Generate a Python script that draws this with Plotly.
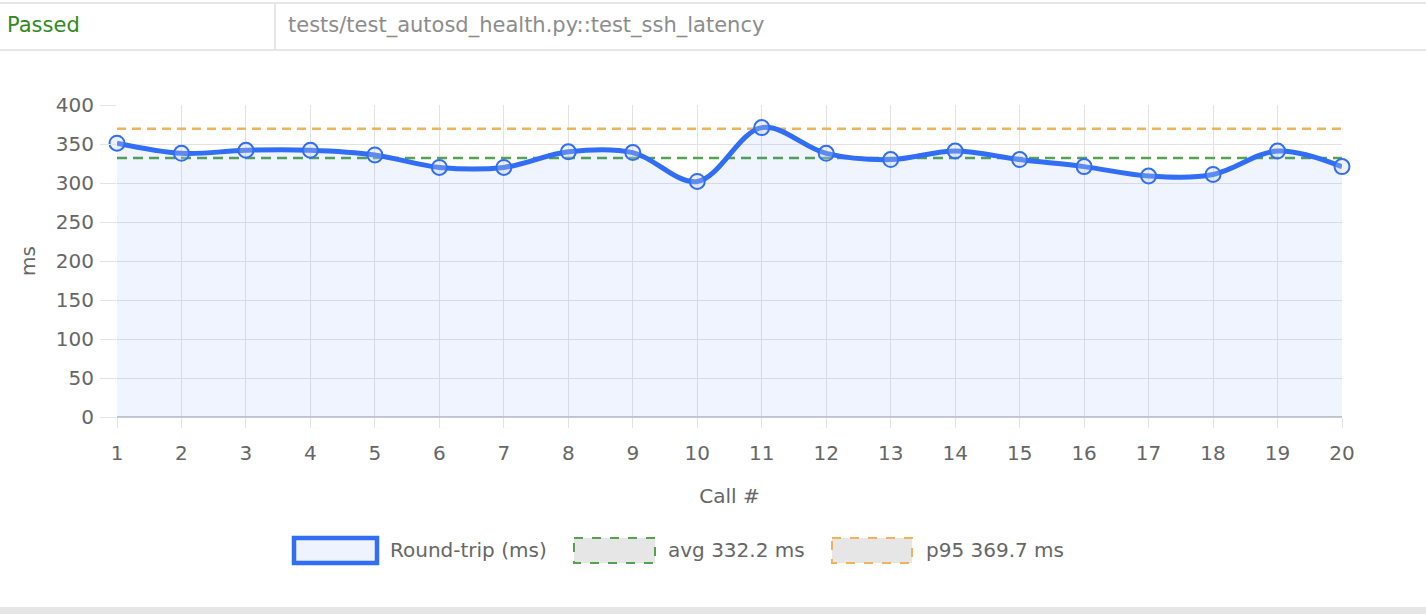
import plotly.graph_objects as go

# ---- data ----
calls = list(range(1, 21))
round_trip = [351, 338, 342, 342, 336, 320, 320, 340, 339, 302,
              371, 338, 330, 341, 330, 321, 309, 311, 341, 321]
avg_value = 332.2
p95_value = 369.7
y_ticks = [0, 50, 100, 150, 200, 250, 300, 350, 400]
legend_labels = ["Round-trip (ms)", "avg 332.2 ms", "p95 369.7 ms"]
status_text = "Passed"
test_name = "tests/test_autosd_health.py::test_ssh_latency"

# ---- layout geometry ----
FW, FH = 1426, 614
L, R, T, B = 117, 84, 105, 197
PW, PH = FW - L - R, FH - T - B

def px(x):
    return (x - L) / PW

def py(y):
    return (FH - B - y) / PH

FONT = "DejaVu Sans, Liberation Sans, Arial, sans-serif"
FS = 20
BLUE = "#316ef5"
FILL = "rgba(49,110,245,0.08)"
GREEN = "#55a34f"
ORANGE = "#f0b25c"
GRID = "#e3e3e6"
TXT = "#666666"

fig = go.Figure()

fig.add_trace(go.Scatter(
    x=calls, y=[p95_value] * len(calls), mode="lines",
    line=dict(color=ORANGE, width=2.5, dash="9px,6px"),
    showlegend=False, hoverinfo="skip"))
fig.add_trace(go.Scatter(
    x=calls, y=[avg_value] * len(calls), mode="lines",
    line=dict(color=GREEN, width=2.5, dash="10px,6px"),
    showlegend=False, hoverinfo="skip"))
fig.add_trace(go.Scatter(
    x=calls, y=round_trip, mode="lines+markers",
    line=dict(color=BLUE, width=5, shape="spline", smoothing=1.0),
    fill="tozeroy", fillcolor=FILL,
    marker=dict(symbol="circle", size=15, color="rgba(200,210,230,0.3)",
                line=dict(color=BLUE, width=2)),
    cliponaxis=False,
    showlegend=False))

shapes = []
annotations = []

# header row
shapes.append(dict(type="line", xref="paper", yref="paper",
                   x0=px(0), x1=px(FW), y0=py(3), y1=py(3),
                   line=dict(color="#e6e6e6", width=2)))
shapes.append(dict(type="line", xref="paper", yref="paper",
                   x0=px(0), x1=px(FW), y0=py(50), y1=py(50),
                   line=dict(color="#e6e6e6", width=2)))
shapes.append(dict(type="line", xref="paper", yref="paper",
                   x0=px(275), x1=px(275), y0=py(3), y1=py(50),
                   line=dict(color="#e6e6e6", width=2)))
annotations.append(dict(text=status_text, xref="paper", yref="paper",
                        x=px(5), y=py(25), xanchor="left", yanchor="middle",
                        showarrow=False, font=dict(family=FONT, size=21, color="#2f8a1e")))
annotations.append(dict(text=test_name, xref="paper", yref="paper",
                        x=px(286), y=py(25), xanchor="left", yanchor="middle",
                        showarrow=False, font=dict(family=FONT, size=21, color="#8c8c8c")))

# bottom grey bar
shapes.append(dict(type="rect", xref="paper", yref="paper",
                   x0=px(0), x1=px(FW), y0=py(607), y1=py(FH),
                   line=dict(width=0), fillcolor="#e6e6e6"))

# custom legend
boxes = [
    (294, 377, BLUE, 4.5, "solid", "#eef3fe"),
    (574, 655, GREEN, 2, "dash", "#e6e6e6"),
    (832, 912, ORANGE, 2, "dash", "#e6e6e6"),
]
text_x = [388, 666, 924]
for (x0, x1, c, w, d, fc), lbl, tx in zip(boxes, legend_labels, text_x):
    shapes.append(dict(type="rect", xref="paper", yref="paper",
                       x0=px(x0), x1=px(x1), y0=py(538), y1=py(563),
                       line=dict(color=c, width=w, dash=d), fillcolor=fc))
    annotations.append(dict(text=lbl, xref="paper", yref="paper",
                            x=px(tx), y=py(550), xanchor="left", yanchor="middle",
                            showarrow=False, font=dict(family=FONT, size=FS, color=TXT)))

fig.update_layout(
    width=FW, height=FH,
    margin=dict(l=L, r=R, t=T, b=B),
    paper_bgcolor="white", plot_bgcolor="white",
    font=dict(family=FONT, size=FS, color=TXT),
    shapes=shapes, annotations=annotations,
    xaxis=dict(
        range=[1, 20], tickmode="array", tickvals=calls, ticktext=[str(c) for c in calls],
        showgrid=True, gridcolor=GRID, gridwidth=1,
        ticks="outside", ticklen=10, tickcolor=GRID, ticklabelstandoff=8,
        showline=False, zeroline=False,
        title=dict(text="Call #", standoff=24, font=dict(size=FS, color=TXT)),
        tickfont=dict(size=FS, color=TXT),
    ),
    yaxis=dict(
        range=[0, 400], tickmode="array", tickvals=y_ticks,
        showgrid=True, gridcolor=GRID, gridwidth=1,
        ticks="outside", ticklen=16, tickcolor=GRID, ticklabelstandoff=2,
        showline=False, zeroline=True, zerolinecolor="#c8c9d2", zerolinewidth=2,
        title=dict(text="ms", standoff=14, font=dict(size=FS, color=TXT)),
        tickfont=dict(size=FS, color=TXT),
    ),
)

fig.write_html("out.html")
